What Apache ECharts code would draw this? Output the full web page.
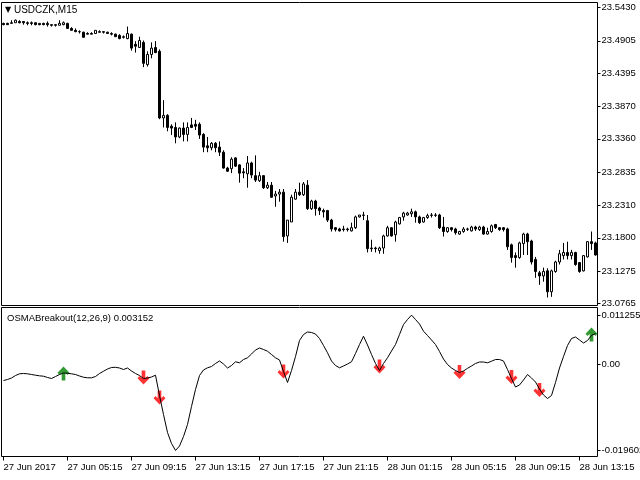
<!DOCTYPE html>
<html>
<head>
<meta charset="utf-8">
<script src="https://cdn.jsdelivr.net/npm/echarts@6/dist/echarts.min.js"></script>
<style>html,body{margin:0;padding:0;background:#fff;}#c{width:640px;height:480px;}</style>
</head>
<body>
<div id="c"></div>
<script>
// ---- data ----
const symbolName = 'USDCZK,M15';
const indicatorName = 'OSMABreakout(12,26,9) 0.003152';
const barCount = 149;
const tickLabels = ['27 Jun 2017','27 Jun 05:15','27 Jun 09:15','27 Jun 13:15','27 Jun 17:15','27 Jun 21:15','28 Jun 01:15','28 Jun 05:15','28 Jun 09:15','28 Jun 13:15'];
const priceTicks = [23.5430,23.4905,23.4395,23.3870,23.3360,23.2835,23.2310,23.1800,23.1275,23.0765];
const osmaTicks = [0.011255, 0, -0.019602];
const osmaTickLabels = ['0.011255','0.00','-0.019602'];

const open = [
23.518,23.518,23.518,23.519,23.521,23.521,23.519,23.519,23.519,23.518,
23.518,23.518,23.516,23.516,23.515,23.516,23.518,23.510,23.507,23.505,
23.504,23.502,23.502,23.502,23.505,23.505,23.504,23.502,23.501,23.499,
23.496,23.494,23.501,23.485,23.480,23.488,23.453,23.469,23.480,23.474,
23.369,23.373,23.356,23.354,23.339,23.353,23.343,23.358,23.359,23.359,
23.343,23.325,23.322,23.329,23.323,23.315,23.290,23.289,23.306,23.295,
23.284,23.281,23.298,23.278,23.270,23.278,23.259,23.263,23.246,23.249,
23.252,23.183,23.205,23.241,23.252,23.248,23.263,23.226,23.238,23.227,
23.223,23.223,23.208,23.196,23.194,23.194,23.194,23.191,23.196,23.213,
23.216,23.207,23.164,23.164,23.160,23.164,23.183,23.196,23.185,23.202,
23.213,23.216,23.218,23.221,23.213,23.205,23.212,23.216,23.216,23.216,
23.197,23.190,23.196,23.194,23.186,23.190,23.194,23.191,23.197,23.193,
23.197,23.186,23.190,23.201,23.196,23.196,23.194,23.169,23.152,23.149,
23.171,23.186,23.175,23.146,23.125,23.120,23.128,23.095,23.127,23.142,
23.152,23.157,23.152,23.157,23.141,23.128,23.150,23.174,23.172];
const close = [
23.516,23.516,23.519,23.523,23.519,23.519,23.518,23.518,23.516,23.516,
23.516,23.516,23.515,23.515,23.518,23.519,23.510,23.507,23.505,23.5048,
23.496,23.501,23.501,23.507,23.504,23.504,23.502,23.501,23.497,23.494,
23.497,23.502,23.479,23.482,23.491,23.455,23.469,23.479,23.472,23.369,
23.373,23.354,23.353,23.339,23.353,23.343,23.354,23.354,23.356,23.342,
23.323,23.322,23.329,23.322,23.315,23.290,23.285,23.304,23.293,23.282,
23.2825,23.298,23.279,23.271,23.278,23.259,23.263,23.244,23.249,23.252,
23.182,23.208,23.244,23.252,23.248,23.265,23.226,23.238,23.226,23.223,
23.221,23.208,23.194,23.193,23.191,23.193,23.193,23.196,23.213,23.216,
23.2155,23.163,23.163,23.163,23.164,23.183,23.196,23.183,23.205,23.212,
23.219,23.219,23.221,23.213,23.204,23.212,23.215,23.2155,23.2155,23.196,
23.190,23.196,23.193,23.188,23.190,23.194,23.1935,23.197,23.194,23.197,
23.186,23.190,23.199,23.196,23.193,23.193,23.166,23.149,23.149,23.172,
23.186,23.174,23.142,23.127,23.120,23.127,23.095,23.128,23.142,23.155,
23.157,23.152,23.157,23.138,23.127,23.152,23.174,23.171,23.153];
const high = [
23.519,23.519,23.523,23.524,23.523,23.521,23.521,23.521,23.519,23.518,
23.519,23.521,23.516,23.516,23.523,23.521,23.519,23.512,23.510,23.507,
23.505,23.504,23.504,23.507,23.507,23.505,23.505,23.504,23.502,23.501,
23.499,23.513,23.502,23.490,23.497,23.491,23.474,23.488,23.490,23.477,
23.397,23.375,23.359,23.362,23.354,23.362,23.362,23.369,23.366,23.362,
23.345,23.339,23.331,23.331,23.332,23.318,23.292,23.307,23.307,23.296,
23.290,23.309,23.300,23.310,23.284,23.279,23.268,23.268,23.254,23.257,
23.257,23.208,23.248,23.257,23.267,23.268,23.271,23.240,23.240,23.229,
23.226,23.224,23.210,23.197,23.196,23.199,23.196,23.204,23.215,23.216,
23.221,23.216,23.177,23.166,23.166,23.185,23.199,23.197,23.207,23.213,
23.221,23.221,23.226,23.223,23.215,23.213,23.218,23.219,23.219,23.218,
23.213,23.197,23.197,23.196,23.191,23.197,23.196,23.199,23.199,23.199,
23.199,23.196,23.201,23.202,23.197,23.197,23.196,23.171,23.157,23.174,
23.188,23.188,23.177,23.150,23.128,23.133,23.132,23.130,23.144,23.161,
23.172,23.174,23.161,23.158,23.142,23.153,23.175,23.190,23.174];
const low = [
23.515,23.516,23.518,23.519,23.518,23.516,23.515,23.515,23.515,23.515,
23.515,23.513,23.513,23.513,23.515,23.515,23.510,23.507,23.504,23.502,
23.496,23.501,23.501,23.502,23.504,23.502,23.502,23.499,23.497,23.493,
23.494,23.493,23.475,23.472,23.480,23.449,23.450,23.463,23.471,23.367,
23.354,23.348,23.342,23.329,23.337,23.332,23.332,23.353,23.350,23.336,
23.315,23.315,23.318,23.315,23.309,23.289,23.284,23.282,23.292,23.267,
23.274,23.259,23.274,23.268,23.268,23.257,23.257,23.243,23.229,23.237,
23.174,23.172,23.205,23.240,23.246,23.246,23.224,23.224,23.215,23.216,
23.212,23.205,23.190,23.190,23.190,23.190,23.190,23.190,23.194,23.212,
23.208,23.157,23.158,23.157,23.155,23.155,23.182,23.182,23.174,23.201,
23.207,23.215,23.213,23.204,23.202,23.204,23.210,23.212,23.213,23.194,
23.182,23.188,23.190,23.185,23.185,23.188,23.191,23.190,23.191,23.191,
23.185,23.185,23.188,23.194,23.191,23.190,23.161,23.141,23.133,23.147,
23.153,23.153,23.138,23.117,23.106,23.111,23.086,23.087,23.125,23.138,
23.146,23.146,23.146,23.136,23.125,23.127,23.149,23.161,23.152];
const osma = [
-0.00365,-0.00342,-0.00308,-0.00251,-0.00212,-0.00205,-0.00212,-0.00228,-0.00244,-0.00258,
-0.00267,-0.00296,-0.00319,-0.00274,-0.00228,-0.00194,-0.00201,-0.00212,-0.00228,-0.00262,
-0.00290,-0.00303,-0.00303,-0.00274,-0.00205,-0.00153,-0.00103,-0.00068,-0.00064,-0.00080,
-0.00114,-0.00080,-0.00148,-0.00205,-0.00251,-0.00319,-0.00308,-0.00285,-0.00244,-0.00707,
-0.01140,-0.01550,-0.01801,-0.019602,-0.01858,-0.01642,-0.01368,-0.00958,-0.00570,-0.00251,
-0.00125,-0.00075,-0.00046,0.00023,0.00080,0.00011,-0.00080,-0.00023,0.00062,0.00039,
0.00114,0.00153,0.00239,0.00331,0.00376,0.00342,0.00303,0.00228,0.00153,0.00103,
-0.00160,-0.00410,-0.00137,0.00182,0.00547,0.00684,0.00741,0.00730,0.00695,0.00593,
0.00433,0.00267,0.00080,-0.00023,-0.00075,-0.00034,0.00011,0.00062,0.00251,0.00456,
0.00645,0.00445,0.00228,0.00023,-0.00137,0.00023,0.00153,0.00308,0.00456,0.00684,
0.00912,0.01026,0.011255,0.01026,0.00923,0.00759,0.00661,0.00559,0.00456,0.00296,
0.00125,0.00000,-0.00080,-0.00137,-0.00182,-0.00148,-0.00087,-0.00034,0.00023,0.00057,
0.00057,0.00039,0.00075,0.00114,0.00114,0.00080,-0.00114,-0.00319,-0.00513,-0.00467,
-0.00353,-0.00228,-0.00308,-0.00399,-0.00559,-0.00695,-0.00775,-0.00707,-0.00410,-0.00080,
0.00182,0.00433,0.00593,0.00627,0.00559,0.00490,0.00547,0.00661,0.00707];
const upArrowBars = [15, 147];
const upArrowValues = [-0.00205, 0.00684];
const downArrowBars = [35, 39, 70, 94, 114, 127, 134];
const downArrowValues = [-0.00296, -0.00752, -0.00160, -0.00046, -0.00171, -0.00285, -0.00581];

// ---- build ----
const categories = [];
for (let i = 0; i < barCount; i++) {
  const t = new Date(Date.UTC(2017, 5, 27, 1, 15) + i * 15 * 60000);
  categories.push(t.toISOString().slice(0, 16));
}
const candles = open.map((o, i) => [o, close[i], low[i], high[i]]);
const upArrows = upArrowBars.map((b, i) => [b, upArrowValues[i]]);
const downArrows = downArrowBars.map((b, i) => [b, downArrowValues[i]]);

const FONT = 'Liberation Sans';
const FS = 9.5;
const txt = {fontFamily: FONT, fontSize: FS, color: '#000'};
const downPath = 'path://M4,0 L7.5,0 L7.5,7 L9.5,5 L11.5,7 L5.75,12.8 L0,7 L2,5 L4,7 Z';
const upPath = 'path://M4,13 L7.5,13 L7.5,6 L9.5,8 L11.5,6 L5.75,0.2 L0,6 L2,8 L4,6 Z';

const chart = echarts.init(document.getElementById('c'), null, {renderer: 'canvas'});
chart.setOption({
  animation: false,
  backgroundColor: '#fff',
  title: [
    {text: '{a|▼} ' + symbolName, left: 5, top: 5, padding: 0,
     textStyle: Object.assign({}, txt, {fontSize: 10, fontWeight: 'normal', rich: {a: {fontFamily: 'DejaVu Sans', fontSize: 8, color: '#000'}}})},
    {text: indicatorName, left: 7, top: 313, padding: 0,
     textStyle: Object.assign({}, txt, {fontWeight: 'normal'})}
  ],
  grid: [
    {left: 1.5, top: 2.5, width: 596, height: 303, show: true, borderColor: '#000', borderWidth: 1, backgroundColor: '#fff',
     containLabel: false, outerBoundsMode: 'none'},
    {left: 1.5, top: 307.5, width: 596, height: 149, show: true, borderColor: '#000', borderWidth: 1, backgroundColor: '#fff',
     containLabel: false, outerBoundsMode: 'none'}
  ],
  xAxis: [
    {type: 'category', gridIndex: 0, data: categories, boundaryGap: true,
     axisLine: {show: false, onZero: false}, axisTick: {show: false}, axisLabel: {show: false}, splitLine: {show: false}},
    {type: 'category', gridIndex: 1, data: categories, boundaryGap: true, position: 'bottom',
     axisLine: {show: false, onZero: false},
     axisTick: {show: true, alignWithLabel: true, interval: 15, length: 4, lineStyle: {color: '#000'}},
     axisLabel: {show: true, interval: 15, align: 'left', margin: 6, fontFamily: FONT, fontSize: FS, color: '#000',
       hideOverlap: false, formatter: (v, idx) => tickLabels[Math.round(idx / 16)] || ''},
     splitLine: {show: false}}
  ],
  yAxis: [
    {type: 'value', gridIndex: 0, position: 'right', min: 23.0734, max: 23.5509,
     axisLine: {show: false}, splitLine: {show: false},
     axisTick: {show: true, length: 3, lineStyle: {color: '#000'}, customValues: priceTicks},
     axisLabel: {show: true, margin: 4, fontFamily: FONT, fontSize: FS, color: '#000', customValues: priceTicks,
       formatter: v => v.toFixed(4)}},
    {type: 'value', gridIndex: 1, position: 'right', min: -0.020976, max: 0.012996,
     axisLine: {show: false}, splitLine: {show: false},
     axisTick: {show: true, length: 3, lineStyle: {color: '#000'}, customValues: osmaTicks},
     axisLabel: {show: true, margin: 4, fontFamily: FONT, fontSize: FS, color: '#000', customValues: osmaTicks,
       formatter: v => { const k = osmaTicks.findIndex(t => Math.abs(t - v) < 1e-9); return k >= 0 ? osmaTickLabels[k] : ''; }}}
  ],
  series: [
    {type: 'candlestick', xAxisIndex: 0, yAxisIndex: 0, data: candles, barWidth: 2,
     itemStyle: {color: '#fff', color0: '#000', borderColor: '#000', borderColor0: '#000', borderWidth: 1}},
    {type: 'line', xAxisIndex: 1, yAxisIndex: 1, data: osma, symbol: 'none', smooth: false,
     lineStyle: {color: '#000', width: 1}},
    {type: 'scatter', xAxisIndex: 1, yAxisIndex: 1, data: downArrows, symbol: downPath, symbolSize: [12, 14],
     itemStyle: {color: '#ff0000'}},
    {type: 'scatter', xAxisIndex: 1, yAxisIndex: 1, data: upArrows, symbol: upPath, symbolSize: [12, 14],
     itemStyle: {color: '#008000'}}
  ]
});
</script>
</body>
</html>
